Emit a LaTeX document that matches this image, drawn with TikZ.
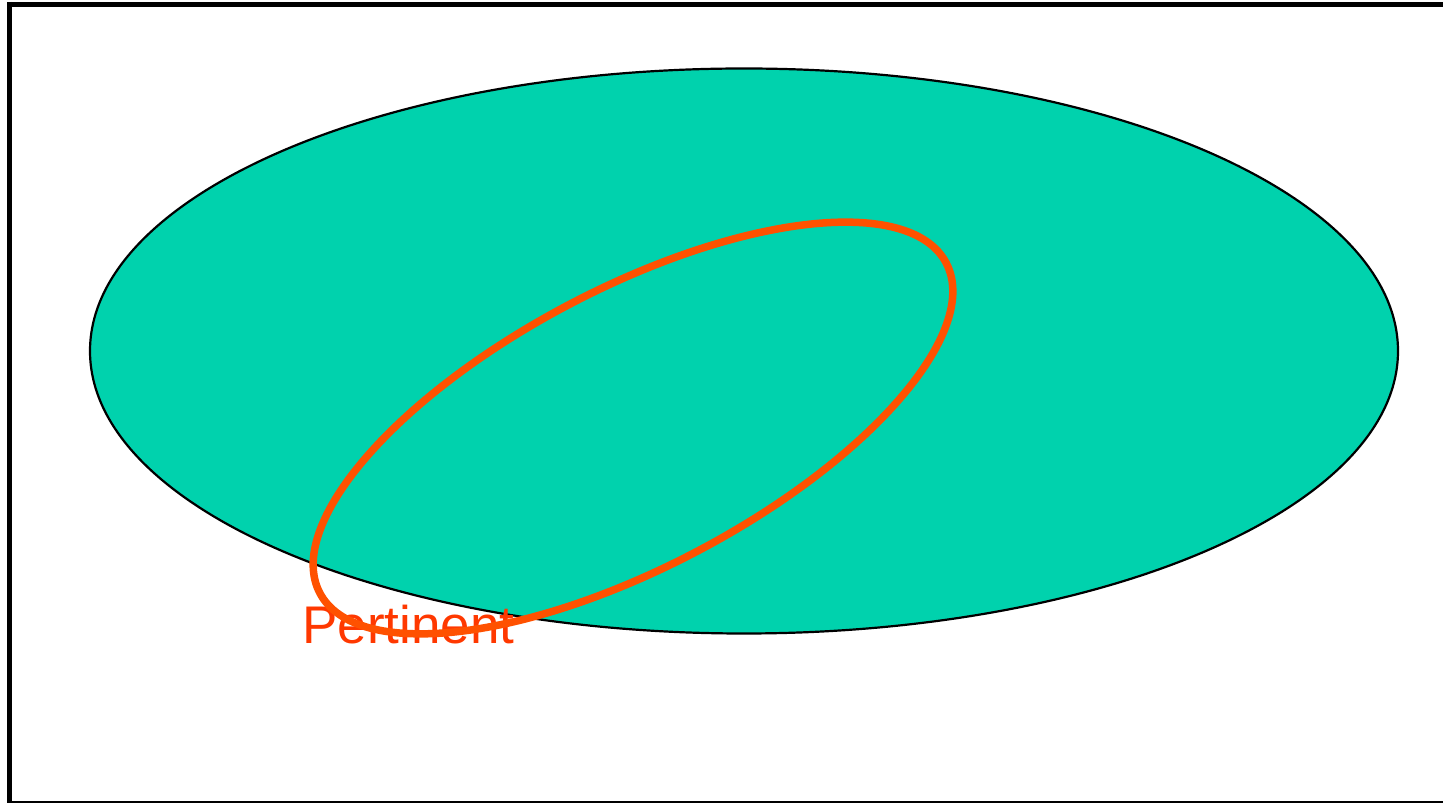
\documentclass[tikz,border=0pt]{standalone}
\usepackage{fontspec}
\setmainfont{Liberation Sans}
\usetikzlibrary{shapes.geometric}
\definecolor{tealfill}{HTML}{00D2AD}
\definecolor{orangeline}{HTML}{FF5100}
\definecolor{orangetext}{HTML}{FF3800}
\tikzset{
  frameline/.style={black, line width=5.3pt},
  outerell/.style={draw=black, fill=tealfill, line width=2.2pt},
  innerell/.style={draw=orangeline, line width=7.5pt},
  lbl/.style={text=orangetext, font=\fontsize{53}{60}\selectfont, inner sep=0pt, anchor=base west}
}
\begin{document}
\begin{tikzpicture}[x=1pt,y=1pt]
\useasboundingbox (0,0) rectangle (1443,803);
\coordinate (tl) at (9.8,798.4);
\coordinate (tr) at (1443,798.4);
\coordinate (bl) at (9.8,0);
\coordinate (blb) at (9.8,1);
\coordinate (brb) at (1443,1);
\draw[frameline] (7.15,798.4) -- (tr);
\draw[frameline] (9.8,801) -- (bl);
\draw[black, line width=2pt] (blb) -- (brb);
\node[outerell, ellipse, minimum width=1308pt, minimum height=565pt, inner sep=0pt] (big) at (744,452) {};
\node[lbl] (txt) at (302,159) {Pertinent};
\draw[innerell, rotate around={27.8:(633,375)}] (633,375) ellipse [x radius=354, y radius=139];
\end{tikzpicture}
\end{document}
